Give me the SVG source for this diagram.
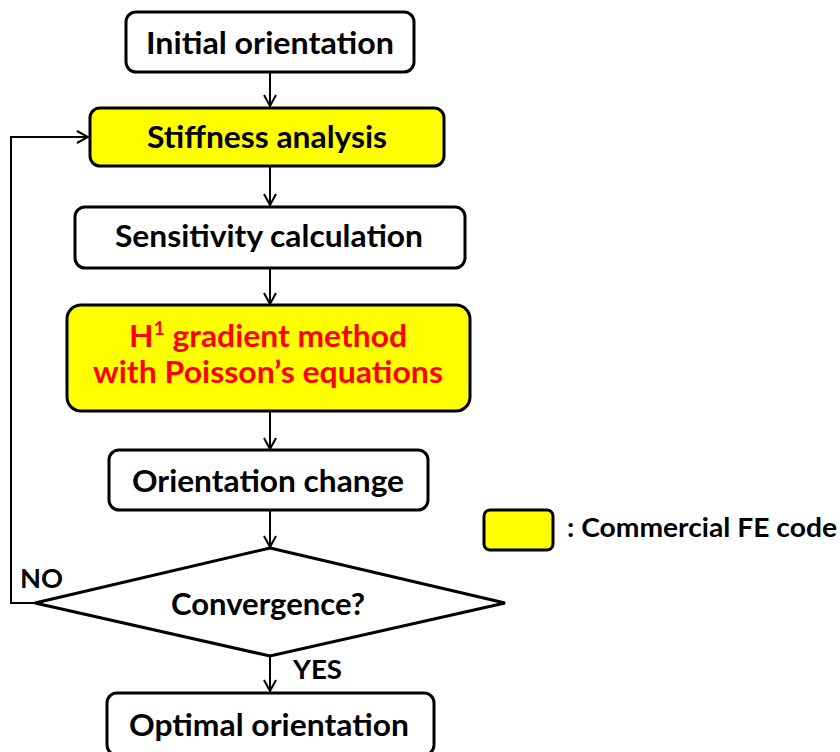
<svg xmlns="http://www.w3.org/2000/svg" width="840" height="752" viewBox="0 0 840 752">
<defs>
<marker id="arr" markerWidth="14" markerHeight="14" viewBox="0 0 14 14" refX="12" refY="7" orient="auto" markerUnits="userSpaceOnUse">
<path d="M1,1 L12,7 L1,13" fill="none" stroke="#000" stroke-width="2"/>
</marker>
<style>
.box{fill:#fff;stroke:#000;stroke-width:3}
.yel{fill:#ffff00;stroke:#000;stroke-width:3}
.t{font-family:Lato,"Open Sans","Liberation Sans",sans-serif;font-weight:bold;font-size:31px;fill:#000;text-anchor:middle}
.red{fill:#ff0000}
.lab{font-family:Lato,"Open Sans","Liberation Sans",sans-serif;font-weight:bold;font-size:26px;fill:#000}
.c{fill:none;stroke:#000;stroke-width:2}
</style>
</defs>
<rect width="840" height="752" fill="#fff"/>
<g id="connectors">
<line class="c" x1="270" y1="73" x2="270" y2="106" marker-end="url(#arr)"/>
<line class="c" x1="270" y1="167" x2="270" y2="205" marker-end="url(#arr)"/>
<line class="c" x1="270" y1="269" x2="270" y2="304" marker-end="url(#arr)"/>
<line class="c" x1="270" y1="412" x2="270" y2="449" marker-end="url(#arr)"/>
<line class="c" x1="270" y1="511" x2="270" y2="547" marker-end="url(#arr)"/>
<line class="c" x1="270" y1="657" x2="270" y2="691" marker-end="url(#arr)"/>
<polyline class="c" points="36,603 11,603 11,137 88,137" stroke-width="3" marker-end="url(#arr)"/>
<text class="lab" x="20" y="588" textLength="43" lengthAdjust="spacingAndGlyphs">NO</text>
<text class="lab" x="293" y="679" textLength="49" lengthAdjust="spacingAndGlyphs">YES</text>
</g>
<g id="n1"><rect class="box" x="126" y="12" width="288" height="60" rx="10"/><text class="t" x="270" y="54" textLength="248" lengthAdjust="spacingAndGlyphs">Initial orientation</text></g>
<g id="n2"><rect class="yel" x="90" y="108" width="354" height="58" rx="10"/><text class="t" x="267" y="148" textLength="240" lengthAdjust="spacingAndGlyphs">Stiffness analysis</text></g>
<g id="n3"><rect class="box" x="75" y="207" width="390" height="61" rx="10"/><text class="t" x="269" y="247" textLength="308" lengthAdjust="spacingAndGlyphs">Sensitivity calculation</text></g>
<g id="n4"><rect class="yel" x="67" y="305" width="403" height="106" rx="14"/>
<text class="t red" x="268" y="347" textLength="278" lengthAdjust="spacingAndGlyphs">H<tspan font-size="19" dy="-12">1</tspan><tspan dy="12"> gradient method</tspan></text>
<text class="t red" x="268" y="383" textLength="350" lengthAdjust="spacingAndGlyphs">with Poisson’s equations</text></g>
<g id="n5"><rect class="box" x="109" y="450" width="319" height="60" rx="10"/><text class="t" x="268" y="492" textLength="272" lengthAdjust="spacingAndGlyphs">Orientation change</text></g>
<g id="n6"><polygon points="270,548 505,603 270,656 35,603" fill="#fff" stroke="#000" stroke-width="3" stroke-linejoin="miter"/><text class="t" x="268" y="615" textLength="194" lengthAdjust="spacingAndGlyphs">Convergence?</text></g>
<g id="n7"><rect class="box" x="107" y="693" width="327" height="62" rx="10"/><text class="t" x="269" y="736" textLength="280" lengthAdjust="spacingAndGlyphs">Optimal orientation</text></g>
<g id="legend"><rect class="yel" x="484" y="510" width="69" height="40" rx="6" stroke-width="2.5"/><text class="lab" x="567" y="537" font-size="25" textLength="270" lengthAdjust="spacingAndGlyphs">: Commercial FE code</text></g>
</svg>
